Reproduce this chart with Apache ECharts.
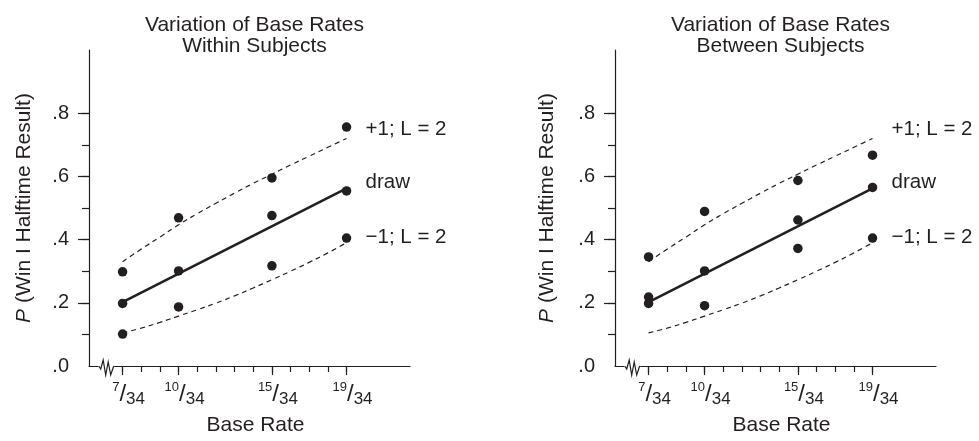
<!DOCTYPE html>
<html>
<head>
<meta charset="utf-8">
<script src="https://cdn.jsdelivr.net/npm/echarts@6/dist/echarts.min.js"></script>
<style>
  html, body { margin: 0; padding: 0; background: #fff; }
</style>
</head>
<body>
<div id="chart" style="width: 979px; height: 441px;"></div>
<script>
// base rates (numerators over 34) and axis ticks
const baseRates = [7, 10, 15, 19];
const denominator = 34;
const minorTicksX = [7, 8, 9, 10, 11, 12, 13, 14, 15, 16, 17, 18, 19];
const majorTicksY = [0.2, 0.4, 0.6, 0.8];
const minorTicksY = [0.1, 0.2, 0.3, 0.4, 0.5, 0.6, 0.7, 0.8];
const labelsY = [0, 0.2, 0.4, 0.6, 0.8];

// observed points, within subjects
const withinUp = [0.298, 0.469, 0.595, 0.756];
const withinDraw = [0.198, 0.301, 0.476, 0.554];
const withinDown = [0.101, 0.187, 0.317, 0.405];

// observed points, between subjects
const betweenUp = [0.345, 0.489, 0.587, 0.667];
const betweenDraw = [0.218, 0.301, 0.462, 0.565];
const betweenDown = [0.198, 0.191, 0.372, 0.405];

const curveX = [7, 8, 9, 10, 11, 12, 13, 14, 15, 16, 17, 18, 19];
const upperCurve = [0.33, 0.37, 0.408, 0.447, 0.482, 0.515, 0.547, 0.578, 0.607, 0.636, 0.664, 0.692, 0.72];
const lowerCurve = [0.105, 0.12, 0.138, 0.158, 0.178, 0.199, 0.222, 0.247, 0.273, 0.3, 0.328, 0.358, 0.39];
const drawLineX = [7, 19];
const drawLineY = [0.202, 0.562];

const titles = ['Variation of Base Rates\nWithin Subjects', 'Variation of Base Rates\nBetween Subjects'];
const curveNames = ['+1; L = 2', 'draw', '\u22121; L = 2'];
const breakAt = 5.72;

const FONT = '"Liberation Sans", Arial, Helvetica, sans-serif';
const INK = '#231f20';

const zip = (xs, ys) => xs.map((x, i) => [x, ys[i]]);

const chart = echarts.init(document.getElementById('chart'));

const panels = [
  { left: 89, nameGapY: 54, up: withinUp, draw: withinDraw, down: withinDown },
  { left: 615, nameGapY: 57, up: betweenUp, draw: betweenDraw, down: betweenDown }
];

const grid = [], xAxis = [], yAxis = [], series = [], title = [];

panels.forEach((p, i) => {
  grid.push({ left: p.left, top: 50, width: 321, height: 316, outerBoundsMode: 'none' });
  title.push({
    text: titles[i],
    left: p.left + 160.5,
    top: 10,
    textAlign: 'center',
    textStyle: { fontFamily: FONT, fontSize: 21, fontWeight: 'normal', color: INK, lineHeight: 21 }
  });
  // main x axis: line, long ticks, fraction labels
  xAxis.push({
    type: 'value', gridIndex: i, min: 5.2, max: 22.4, position: 'bottom',
    name: 'Base Rate', nameLocation: 'middle', nameGap: 49,
    nameTextStyle: { fontFamily: FONT, fontSize: 21, color: INK, padding: [0, 0, 0, 12] },
    splitLine: { show: false },
    axisLine: { show: true, lineStyle: { color: INK, width: 1.2 } },
    axisTick: { show: true, customValues: baseRates, length: 9, lineStyle: { color: INK, width: 1.2 } },
    axisLabel: {
      show: true, customValues: baseRates, margin: 15, padding: [0, 0, 0, 12],
      formatter: v => '{n|' + v + '}{s|/}{d|' + denominator + '}',
      rich: {
        n: { fontFamily: FONT, fontSize: 13, lineHeight: 13, color: INK, verticalAlign: 'top' },
        s: { fontFamily: FONT, fontSize: 24, lineHeight: 27, color: INK },
        d: { fontFamily: FONT, fontSize: 17, lineHeight: 17, color: INK, verticalAlign: 'bottom' }
      }
    }
  });
  // minor tick axis
  xAxis.push({
    type: 'value', gridIndex: i, min: 5.2, max: 22.4, position: 'bottom', offset: 0,
    splitLine: { show: false }, axisLine: { show: false }, axisLabel: { show: false },
    axisTick: { show: true, customValues: minorTicksX, length: 6, lineStyle: { color: INK, width: 1.2 } }
  });
  yAxis.push({
    type: 'value', gridIndex: i, min: 0, max: 1, position: 'left',
    name: '{i|P} (Win I Halftime Result)', nameLocation: 'middle', nameGap: p.nameGapY,
    nameTextStyle: {
      fontFamily: FONT, fontSize: 21, color: INK,
      rich: {
        i: { fontFamily: FONT, fontSize: 21, color: INK, fontStyle: 'italic' }
      }
    },
    splitLine: { show: false },
    axisLine: { show: true, lineStyle: { color: INK, width: 1.2 } },
    axisTick: { show: true, customValues: majorTicksY, length: 11, lineStyle: { color: INK, width: 1.2 } },
    axisLabel: {
      show: true, customValues: labelsY, margin: 20,
      fontFamily: FONT, fontSize: 20, color: INK,
      formatter: v => v.toFixed(1).replace(/^0/, '')
    }
  });
  yAxis.push({
    type: 'value', gridIndex: i, min: 0, max: 1, position: 'left', offset: 0,
    splitLine: { show: false }, axisLine: { show: false }, axisLabel: { show: false },
    axisTick: { show: true, customValues: minorTicksY, length: 7, lineStyle: { color: INK, width: 1.2 } }
  });

  const xi = i * 2, yi = i * 2;
  const endLabel = (text, dy) => ({
    show: true, formatter: text, distance: 19, offset: [0, dy],
    fontFamily: FONT, fontSize: 20.5, color: INK
  });
  series.push({
    type: 'line', xAxisIndex: xi, yAxisIndex: yi, data: zip(curveX, upperCurve),
    smooth: true, showSymbol: false, silent: true,
    lineStyle: { color: INK, width: 1.2, type: [5, 4] },
    endLabel: endLabel(curveNames[0], -9)
  });
  series.push({
    type: 'line', xAxisIndex: xi, yAxisIndex: yi, data: zip(drawLineX, drawLineY),
    showSymbol: false, silent: true,
    lineStyle: { color: INK, width: 2.6 },
    endLabel: endLabel(curveNames[1], -6)
  });
  series.push({
    type: 'line', xAxisIndex: xi, yAxisIndex: yi, data: zip(curveX, lowerCurve),
    smooth: true, showSymbol: false, silent: true,
    lineStyle: { color: INK, width: 1.2, type: [5, 4] },
    endLabel: endLabel(curveNames[2], -5)
  });
  [p.up, p.draw, p.down].forEach(vals => {
    series.push({
      type: 'scatter', xAxisIndex: xi, yAxisIndex: yi, data: zip(baseRates, vals),
      symbolSize: 9.5, itemStyle: { color: INK, opacity: 1 }, silent: true, z: 5
    });
  });
  // axis break symbol on the x axis
  series.push({
    type: 'custom', xAxisIndex: xi, yAxisIndex: yi, data: [[breakAt, 0]], silent: true, z: 6,
    renderItem: (params, api) => {
      const c = api.coord([api.value(0), api.value(1)]);
      const zig = [[0, 0], [2, 3], [4.5, -6], [7, 9], [9.5, -4], [12, 9], [15, 0]];
      return {
        type: 'group',
        children: [
          { type: 'rect', shape: { x: c[0] - 0.5, y: c[1] - 2, width: 16, height: 4 }, style: { fill: '#fff' } },
          {
            type: 'polyline',
            shape: { points: zig.map(q => [c[0] + q[0], c[1] + q[1]]) },
            style: { stroke: INK, lineWidth: 1.2, fill: null }
          }
        ]
      };
    }
  });
});

chart.setOption({
  animation: false,
  backgroundColor: '#fff',
  title: title,
  grid: grid,
  xAxis: xAxis,
  yAxis: yAxis,
  series: series
});
</script>
</body>
</html>
